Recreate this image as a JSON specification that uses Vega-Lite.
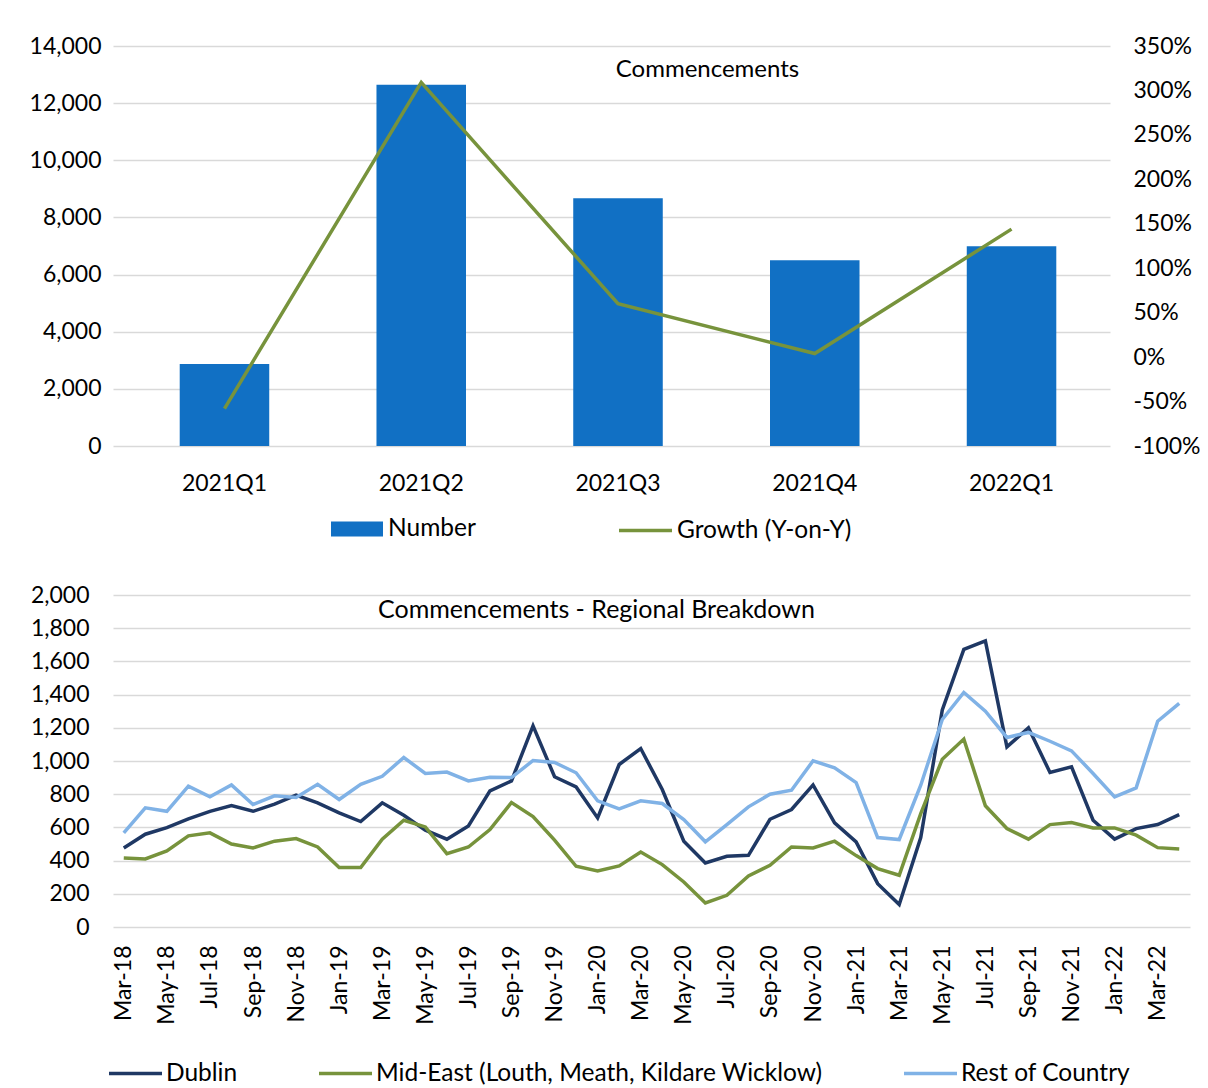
{
  "$schema": "https://vega.github.io/schema/vega-lite/v6.json",
  "padding": {"left": 29, "top": 35, "right": 0, "bottom": 0},
  "background": "white",
  "columns": 1,
  "spacing": 89,
  "config": {
    "font": "Lato",
    "view": {"stroke": null},
    "axis": {
      "labelFont": "Lato",
      "labelFontSize": 23,
      "labelColor": "#000000",
      "ticks": false,
      "domain": false,
      "gridColor": "#d9d9d9",
      "gridWidth": 1.5,
      "title": null
    },
    "legend": {
      "labelFont": "Lato",
      "labelFontSize": 24.5,
      "labelColor": "#000000",
      "labelLimit": 1000,
      "title": null,
      "orient": "none"
    },
    "title": {"font": "Lato", "fontWeight": "normal", "color": "#000000", "baseline": "alphabetic"}
  },
  "concat": [
    {
      "width": 997,
      "height": 400,
      "title": {"text": "Commencements", "fontSize": 24, "dx": 96, "offset": -47},
      "data": {
        "values": [
          {"quarter": "2021Q1", "number": 2866, "growth": -58},
          {"quarter": "2021Q2", "number": 12640, "growth": 309},
          {"quarter": "2021Q3", "number": 8668, "growth": 60},
          {"quarter": "2021Q4", "number": 6501, "growth": 4},
          {"quarter": "2022Q1", "number": 6990, "growth": 144}
        ]
      },
      "layer": [
        {
          "mark": {"type": "bar"},
          "encoding": {
            "x": {
              "field": "quarter", "type": "nominal", "sort": null,
              "scale": {"paddingInner": 0.545, "paddingOuter": 0.306, "align": 0.554},
              "axis": {"labelAngle": 0, "labelPadding": 26, "grid": false}
            },
            "y": {
              "field": "number", "type": "quantitative",
              "scale": {"domain": [0, 14000]},
              "axis": {"values": [0, 2000, 4000, 6000, 8000, 10000, 12000, 14000], "format": ",.0f", "labelPadding": 12, "grid": true}
            },
            "fill": {
              "datum": "Number",
              "scale": {"range": ["#1170c4"]},
              "legend": {
                "legendX": 218,
                "legendY": 457,
                "symbolType": "M-1,-0.288H1V0.288H-1Z",
                "symbolSize": 2704,
                "symbolStrokeWidth": 0,
                "labelOffset": 5
              }
            }
          }
        },
        {
          "mark": {"type": "line", "strokeWidth": 3.5},
          "encoding": {
            "x": {"field": "quarter", "type": "nominal", "sort": null},
            "y": {
              "field": "growth", "type": "quantitative",
              "scale": {"domain": [-100, 350]},
              "axis": {"orient": "right", "grid": false, "values": [-100, -50, 0, 50, 100, 150, 200, 250, 300, 350], "labelExpr": "datum.value + '%'", "labelPadding": 23}
            },
            "stroke": {
              "datum": "Growth (Y-on-Y)",
              "scale": {"range": ["#77933c"]},
              "legend": {
                "legendX": 504,
                "legendY": 456,
                "symbolType": "stroke",
                "symbolSize": 2809,
                "symbolStrokeWidth": 3.5,
                "labelOffset": 3
              }
            }
          }
        }
      ],
      "resolve": {"scale": {"y": "independent"}}
    },
    {
      "width": 1077,
      "height": 332,
      "title": {"text": "Commencements - Regional Breakdown", "fontSize": 25, "dx": -55, "offset": -39},
      "data": {
        "values": [
          {"month": "Mar-18", "region": "Dublin", "value": 476},
          {"month": "Apr-18", "region": "Dublin", "value": 559},
          {"month": "May-18", "region": "Dublin", "value": 599},
          {"month": "Jun-18", "region": "Dublin", "value": 651},
          {"month": "Jul-18", "region": "Dublin", "value": 697},
          {"month": "Aug-18", "region": "Dublin", "value": 732},
          {"month": "Sep-18", "region": "Dublin", "value": 697},
          {"month": "Oct-18", "region": "Dublin", "value": 740},
          {"month": "Nov-18", "region": "Dublin", "value": 794},
          {"month": "Dec-18", "region": "Dublin", "value": 748},
          {"month": "Jan-19", "region": "Dublin", "value": 687},
          {"month": "Feb-19", "region": "Dublin", "value": 635},
          {"month": "Mar-19", "region": "Dublin", "value": 748},
          {"month": "Apr-19", "region": "Dublin", "value": 673},
          {"month": "May-19", "region": "Dublin", "value": 583},
          {"month": "Jun-19", "region": "Dublin", "value": 529},
          {"month": "Jul-19", "region": "Dublin", "value": 609},
          {"month": "Aug-19", "region": "Dublin", "value": 820},
          {"month": "Sep-19", "region": "Dublin", "value": 880},
          {"month": "Oct-19", "region": "Dublin", "value": 1212},
          {"month": "Nov-19", "region": "Dublin", "value": 905},
          {"month": "Dec-19", "region": "Dublin", "value": 844},
          {"month": "Jan-20", "region": "Dublin", "value": 657},
          {"month": "Feb-20", "region": "Dublin", "value": 979},
          {"month": "Mar-20", "region": "Dublin", "value": 1075},
          {"month": "Apr-20", "region": "Dublin", "value": 828},
          {"month": "May-20", "region": "Dublin", "value": 517},
          {"month": "Jun-20", "region": "Dublin", "value": 386},
          {"month": "Jul-20", "region": "Dublin", "value": 426},
          {"month": "Aug-20", "region": "Dublin", "value": 432},
          {"month": "Sep-20", "region": "Dublin", "value": 649},
          {"month": "Oct-20", "region": "Dublin", "value": 708},
          {"month": "Nov-20", "region": "Dublin", "value": 856},
          {"month": "Dec-20", "region": "Dublin", "value": 627},
          {"month": "Jan-21", "region": "Dublin", "value": 513},
          {"month": "Feb-21", "region": "Dublin", "value": 261},
          {"month": "Mar-21", "region": "Dublin", "value": 135},
          {"month": "Apr-21", "region": "Dublin", "value": 539},
          {"month": "May-21", "region": "Dublin", "value": 1307},
          {"month": "Jun-21", "region": "Dublin", "value": 1672},
          {"month": "Jul-21", "region": "Dublin", "value": 1723},
          {"month": "Aug-21", "region": "Dublin", "value": 1085},
          {"month": "Sep-21", "region": "Dublin", "value": 1200},
          {"month": "Oct-21", "region": "Dublin", "value": 931},
          {"month": "Nov-21", "region": "Dublin", "value": 965},
          {"month": "Dec-21", "region": "Dublin", "value": 643},
          {"month": "Jan-22", "region": "Dublin", "value": 529},
          {"month": "Feb-22", "region": "Dublin", "value": 593},
          {"month": "Mar-22", "region": "Dublin", "value": 617},
          {"month": "Apr-22", "region": "Dublin", "value": 677},
          {"month": "Mar-18", "region": "Mid-East (Louth, Meath, Kildare Wicklow)", "value": 416},
          {"month": "Apr-18", "region": "Mid-East (Louth, Meath, Kildare Wicklow)", "value": 410},
          {"month": "May-18", "region": "Mid-East (Louth, Meath, Kildare Wicklow)", "value": 458},
          {"month": "Jun-18", "region": "Mid-East (Louth, Meath, Kildare Wicklow)", "value": 549},
          {"month": "Jul-18", "region": "Mid-East (Louth, Meath, Kildare Wicklow)", "value": 567},
          {"month": "Aug-18", "region": "Mid-East (Louth, Meath, Kildare Wicklow)", "value": 500},
          {"month": "Sep-18", "region": "Mid-East (Louth, Meath, Kildare Wicklow)", "value": 476},
          {"month": "Oct-18", "region": "Mid-East (Louth, Meath, Kildare Wicklow)", "value": 517},
          {"month": "Nov-18", "region": "Mid-East (Louth, Meath, Kildare Wicklow)", "value": 533},
          {"month": "Dec-18", "region": "Mid-East (Louth, Meath, Kildare Wicklow)", "value": 482},
          {"month": "Jan-19", "region": "Mid-East (Louth, Meath, Kildare Wicklow)", "value": 358},
          {"month": "Feb-19", "region": "Mid-East (Louth, Meath, Kildare Wicklow)", "value": 358},
          {"month": "Mar-19", "region": "Mid-East (Louth, Meath, Kildare Wicklow)", "value": 529},
          {"month": "Apr-19", "region": "Mid-East (Louth, Meath, Kildare Wicklow)", "value": 643},
          {"month": "May-19", "region": "Mid-East (Louth, Meath, Kildare Wicklow)", "value": 603},
          {"month": "Jun-19", "region": "Mid-East (Louth, Meath, Kildare Wicklow)", "value": 442},
          {"month": "Jul-19", "region": "Mid-East (Louth, Meath, Kildare Wicklow)", "value": 482},
          {"month": "Aug-19", "region": "Mid-East (Louth, Meath, Kildare Wicklow)", "value": 587},
          {"month": "Sep-19", "region": "Mid-East (Louth, Meath, Kildare Wicklow)", "value": 750},
          {"month": "Oct-19", "region": "Mid-East (Louth, Meath, Kildare Wicklow)", "value": 665},
          {"month": "Nov-19", "region": "Mid-East (Louth, Meath, Kildare Wicklow)", "value": 523},
          {"month": "Dec-19", "region": "Mid-East (Louth, Meath, Kildare Wicklow)", "value": 366},
          {"month": "Jan-20", "region": "Mid-East (Louth, Meath, Kildare Wicklow)", "value": 338},
          {"month": "Feb-20", "region": "Mid-East (Louth, Meath, Kildare Wicklow)", "value": 368},
          {"month": "Mar-20", "region": "Mid-East (Louth, Meath, Kildare Wicklow)", "value": 452},
          {"month": "Apr-20", "region": "Mid-East (Louth, Meath, Kildare Wicklow)", "value": 376},
          {"month": "May-20", "region": "Mid-East (Louth, Meath, Kildare Wicklow)", "value": 271},
          {"month": "Jun-20", "region": "Mid-East (Louth, Meath, Kildare Wicklow)", "value": 145},
          {"month": "Jul-20", "region": "Mid-East (Louth, Meath, Kildare Wicklow)", "value": 191},
          {"month": "Aug-20", "region": "Mid-East (Louth, Meath, Kildare Wicklow)", "value": 308},
          {"month": "Sep-20", "region": "Mid-East (Louth, Meath, Kildare Wicklow)", "value": 372},
          {"month": "Oct-20", "region": "Mid-East (Louth, Meath, Kildare Wicklow)", "value": 482},
          {"month": "Nov-20", "region": "Mid-East (Louth, Meath, Kildare Wicklow)", "value": 476},
          {"month": "Dec-20", "region": "Mid-East (Louth, Meath, Kildare Wicklow)", "value": 517},
          {"month": "Jan-21", "region": "Mid-East (Louth, Meath, Kildare Wicklow)", "value": 430},
          {"month": "Feb-21", "region": "Mid-East (Louth, Meath, Kildare Wicklow)", "value": 352},
          {"month": "Mar-21", "region": "Mid-East (Louth, Meath, Kildare Wicklow)", "value": 312},
          {"month": "Apr-21", "region": "Mid-East (Louth, Meath, Kildare Wicklow)", "value": 683},
          {"month": "May-21", "region": "Mid-East (Louth, Meath, Kildare Wicklow)", "value": 1011},
          {"month": "Jun-21", "region": "Mid-East (Louth, Meath, Kildare Wicklow)", "value": 1132},
          {"month": "Jul-21", "region": "Mid-East (Louth, Meath, Kildare Wicklow)", "value": 730},
          {"month": "Aug-21", "region": "Mid-East (Louth, Meath, Kildare Wicklow)", "value": 593},
          {"month": "Sep-21", "region": "Mid-East (Louth, Meath, Kildare Wicklow)", "value": 529},
          {"month": "Oct-21", "region": "Mid-East (Louth, Meath, Kildare Wicklow)", "value": 617},
          {"month": "Nov-21", "region": "Mid-East (Louth, Meath, Kildare Wicklow)", "value": 629},
          {"month": "Dec-21", "region": "Mid-East (Louth, Meath, Kildare Wicklow)", "value": 597},
          {"month": "Jan-22", "region": "Mid-East (Louth, Meath, Kildare Wicklow)", "value": 597},
          {"month": "Feb-22", "region": "Mid-East (Louth, Meath, Kildare Wicklow)", "value": 553},
          {"month": "Mar-22", "region": "Mid-East (Louth, Meath, Kildare Wicklow)", "value": 478},
          {"month": "Apr-22", "region": "Mid-East (Louth, Meath, Kildare Wicklow)", "value": 470},
          {"month": "Mar-18", "region": "Rest of Country", "value": 567},
          {"month": "Apr-18", "region": "Rest of Country", "value": 718},
          {"month": "May-18", "region": "Rest of Country", "value": 697},
          {"month": "Jun-18", "region": "Rest of Country", "value": 848},
          {"month": "Jul-18", "region": "Rest of Country", "value": 784},
          {"month": "Aug-18", "region": "Rest of Country", "value": 856},
          {"month": "Sep-18", "region": "Rest of Country", "value": 738},
          {"month": "Oct-18", "region": "Rest of Country", "value": 790},
          {"month": "Nov-18", "region": "Rest of Country", "value": 780},
          {"month": "Dec-18", "region": "Rest of Country", "value": 860},
          {"month": "Jan-19", "region": "Rest of Country", "value": 768},
          {"month": "Feb-19", "region": "Rest of Country", "value": 860},
          {"month": "Mar-19", "region": "Rest of Country", "value": 908},
          {"month": "Apr-19", "region": "Rest of Country", "value": 1021},
          {"month": "May-19", "region": "Rest of Country", "value": 925},
          {"month": "Jun-19", "region": "Rest of Country", "value": 933},
          {"month": "Jul-19", "region": "Rest of Country", "value": 880},
          {"month": "Aug-19", "region": "Rest of Country", "value": 902},
          {"month": "Sep-19", "region": "Rest of Country", "value": 900},
          {"month": "Oct-19", "region": "Rest of Country", "value": 1003},
          {"month": "Nov-19", "region": "Rest of Country", "value": 991},
          {"month": "Dec-19", "region": "Rest of Country", "value": 929},
          {"month": "Jan-20", "region": "Rest of Country", "value": 760},
          {"month": "Feb-20", "region": "Rest of Country", "value": 712},
          {"month": "Mar-20", "region": "Rest of Country", "value": 760},
          {"month": "Apr-20", "region": "Rest of Country", "value": 744},
          {"month": "May-20", "region": "Rest of Country", "value": 647},
          {"month": "Jun-20", "region": "Rest of Country", "value": 513},
          {"month": "Jul-20", "region": "Rest of Country", "value": 617},
          {"month": "Aug-20", "region": "Rest of Country", "value": 724},
          {"month": "Sep-20", "region": "Rest of Country", "value": 800},
          {"month": "Oct-20", "region": "Rest of Country", "value": 824},
          {"month": "Nov-20", "region": "Rest of Country", "value": 1001},
          {"month": "Dec-20", "region": "Rest of Country", "value": 959},
          {"month": "Jan-21", "region": "Rest of Country", "value": 870},
          {"month": "Feb-21", "region": "Rest of Country", "value": 539},
          {"month": "Mar-21", "region": "Rest of Country", "value": 527},
          {"month": "Apr-21", "region": "Rest of Country", "value": 854},
          {"month": "May-21", "region": "Rest of Country", "value": 1250},
          {"month": "Jun-21", "region": "Rest of Country", "value": 1413},
          {"month": "Jul-21", "region": "Rest of Country", "value": 1300},
          {"month": "Aug-21", "region": "Rest of Country", "value": 1142},
          {"month": "Sep-21", "region": "Rest of Country", "value": 1172},
          {"month": "Oct-21", "region": "Rest of Country", "value": 1119},
          {"month": "Nov-21", "region": "Rest of Country", "value": 1061},
          {"month": "Dec-21", "region": "Rest of Country", "value": 925},
          {"month": "Jan-22", "region": "Rest of Country", "value": 784},
          {"month": "Feb-22", "region": "Rest of Country", "value": 838},
          {"month": "Mar-22", "region": "Rest of Country", "value": 1240},
          {"month": "Apr-22", "region": "Rest of Country", "value": 1347}
        ]
      },
      "mark": {"type": "line", "strokeWidth": 3.5},
      "encoding": {
        "x": {
          "field": "month", "type": "ordinal",
          "sort": ["Mar-18","Apr-18","May-18","Jun-18","Jul-18","Aug-18","Sep-18","Oct-18","Nov-18","Dec-18","Jan-19","Feb-19","Mar-19","Apr-19","May-19","Jun-19","Jul-19","Aug-19","Sep-19","Oct-19","Nov-19","Dec-19","Jan-20","Feb-20","Mar-20","Apr-20","May-20","Jun-20","Jul-20","Aug-20","Sep-20","Oct-20","Nov-20","Dec-20","Jan-21","Feb-21","Mar-21","Apr-21","May-21","Jun-21","Jul-21","Aug-21","Sep-21","Oct-21","Nov-21","Dec-21","Jan-22","Feb-22","Mar-22","Apr-22"],
          "scale": {"type": "point", "padding": 0.5},
          "axis": {
            "values": ["Mar-18","May-18","Jul-18","Sep-18","Nov-18","Jan-19","Mar-19","May-19","Jul-19","Sep-19","Nov-19","Jan-20","Mar-20","May-20","Jul-20","Sep-20","Nov-20","Jan-21","Mar-21","May-21","Jul-21","Sep-21","Nov-21","Jan-22","Mar-22"],
            "labelAngle": -90,
            "labelPadding": 18,
            "grid": false
          }
        },
        "y": {
          "field": "value", "type": "quantitative",
          "scale": {"domain": [0, 2000]},
          "axis": {"values": [0, 200, 400, 600, 800, 1000, 1200, 1400, 1600, 1800, 2000], "format": ",.0f", "labelPadding": 24, "grid": true}
        },
        "color": {
          "field": "region", "type": "nominal",
          "scale": {
            "domain": ["Dublin", "Mid-East (Louth, Meath, Kildare Wicklow)", "Rest of Country"],
            "range": ["#1f3864", "#77933c", "#80b2e6"]
          },
          "legend": {
            "legendX": -6,
            "legendY": 999,
            "direction": "horizontal",
            "columns": 3,
            "columnPadding": 74,
            "symbolType": "stroke",
            "symbolSize": 2809,
            "symbolStrokeWidth": 3.5,
            "labelOffset": 2
          }
        }
      }
    }
  ]
}
